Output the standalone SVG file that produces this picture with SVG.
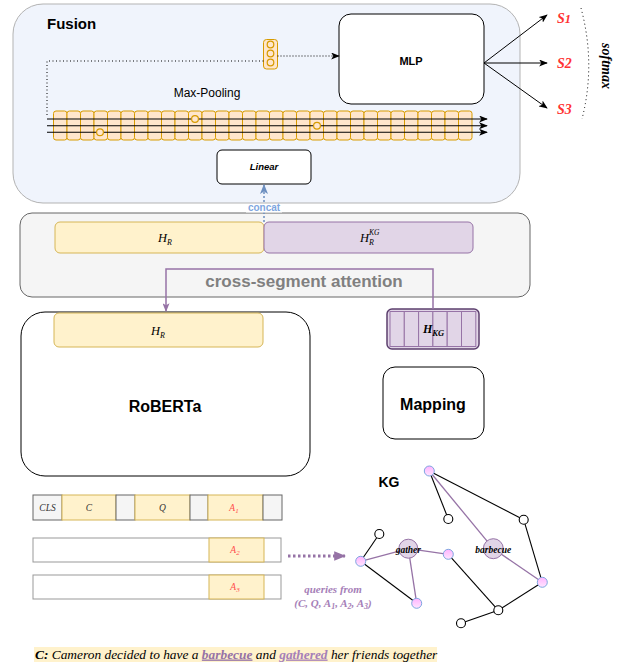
<svg xmlns="http://www.w3.org/2000/svg" width="625" height="662" viewBox="0 0 625 662">
<defs>
<style>
.sans{font-family:"Liberation Sans",Arial,sans-serif}
.serif{font-family:"Liberation Serif","Times New Roman",serif}
.cell{fill:#ffe6cc;stroke:#d79b00;stroke-width:1}
.dot{fill:#ffe6cc;stroke:#d79b00;stroke-width:1.2}
.yel{fill:#fff2cc;stroke:#d6b656;stroke-width:1}
.pur{fill:#e1d5e7;stroke:#9673a6;stroke-width:1}
.gry{fill:#f5f5f5;stroke:#666666;stroke-width:1}
.wbar{fill:#ffffff;stroke:#999999;stroke-width:1}
.kgb{stroke:#000;stroke-width:1.1;fill:none}
.kgp{stroke:#9673a6;stroke-width:1.3;fill:none}
.pn{fill:url(#pink);stroke:#7ea6e0;stroke-width:1}
.wn{fill:#fff;stroke:#000;stroke-width:1.1}
.bn{fill:#e1d5e7;stroke:#9673a6;stroke-width:1}
.lbl{font-family:"Liberation Serif","Times New Roman",serif;font-style:italic;font-size:9.5px;text-anchor:middle}
.score{font-family:"Liberation Serif","Times New Roman",serif;font-style:italic;font-weight:bold;font-size:14px;fill:#ff3333}
</style>
<linearGradient id="pink" x1="0" y1="0" x2="0" y2="1">
<stop offset="0" stop-color="#ffb3ff"/>
<stop offset="1" stop-color="#ffe6ff"/>
</linearGradient>
<marker id="ab" viewBox="0 0 10 8" refX="9" refY="4" markerWidth="9" markerHeight="7" markerUnits="userSpaceOnUse" orient="auto">
<path d="M0,0 L10,4 L0,8 L2.5,4 z" fill="#000"/>
</marker>
<marker id="abl" viewBox="0 0 10 8" refX="9" refY="4" markerWidth="10" markerHeight="8" markerUnits="userSpaceOnUse" orient="auto">
<path d="M0,0 L10,4 L0,8 L2.5,4 z" fill="#6c8ebf"/>
</marker>
<marker id="ap" viewBox="0 0 10 8" refX="9" refY="4" markerWidth="9" markerHeight="7" markerUnits="userSpaceOnUse" orient="auto">
<path d="M0,0 L10,4 L0,8 L2.5,4 z" fill="#9673a6"/>
</marker>
<marker id="apb" viewBox="0 0 10 8" refX="9" refY="4" markerWidth="12" markerHeight="11" markerUnits="userSpaceOnUse" orient="auto">
<path d="M0,0 L10,4 L0,8 z" fill="#9673a6"/>
</marker>
</defs>
<rect width="625" height="662" fill="#ffffff"/>

<g id="fusion">
<rect x="13" y="4" width="507" height="199" rx="30" fill="#f0f4fc" stroke="#b3b3b3" stroke-width="1"/>
<text x="47" y="29" class="sans" font-size="15" font-weight="bold">Fusion</text>
</g>

<g id="maxpool">
<g>
<rect class="cell" x="53.5" y="111" width="13.5" height="29" rx="2.5"/>
<rect class="cell" x="67" y="111" width="13.5" height="29" rx="2.5"/>
<rect class="cell" x="80.5" y="111" width="13.5" height="29" rx="2.5"/>
<rect class="cell" x="94" y="111" width="13.5" height="29" rx="2.5"/>
<rect class="cell" x="107.5" y="111" width="13.5" height="29" rx="2.5"/>
<rect class="cell" x="121" y="111" width="13.5" height="29" rx="2.5"/>
<rect class="cell" x="134.5" y="111" width="13.5" height="29" rx="2.5"/>
<rect class="cell" x="148" y="111" width="13.5" height="29" rx="2.5"/>
<rect class="cell" x="161.5" y="111" width="13.5" height="29" rx="2.5"/>
<rect class="cell" x="175" y="111" width="13.5" height="29" rx="2.5"/>
<rect class="cell" x="188.5" y="111" width="13.5" height="29" rx="2.5"/>
<rect class="cell" x="202" y="111" width="13.5" height="29" rx="2.5"/>
<rect class="cell" x="215.5" y="111" width="13.5" height="29" rx="2.5"/>
<rect class="cell" x="229" y="111" width="13.5" height="29" rx="2.5"/>
<rect class="cell" x="242.5" y="111" width="13.5" height="29" rx="2.5"/>
<rect class="cell" x="256" y="111" width="13.5" height="29" rx="2.5"/>
<rect class="cell" x="269.5" y="111" width="13.5" height="29" rx="2.5"/>
<rect class="cell" x="283" y="111" width="13.5" height="29" rx="2.5"/>
<rect class="cell" x="296.5" y="111" width="13.5" height="29" rx="2.5"/>
<rect class="cell" x="310" y="111" width="13.5" height="29" rx="2.5"/>
<rect class="cell" x="323.5" y="111" width="13.5" height="29" rx="2.5"/>
<rect class="cell" x="337" y="111" width="13.5" height="29" rx="2.5"/>
<rect class="cell" x="350.5" y="111" width="13.5" height="29" rx="2.5"/>
<rect class="cell" x="364" y="111" width="13.5" height="29" rx="2.5"/>
<rect class="cell" x="377.5" y="111" width="13.5" height="29" rx="2.5"/>
<rect class="cell" x="391" y="111" width="13.5" height="29" rx="2.5"/>
<rect class="cell" x="404.5" y="111" width="13.5" height="29" rx="2.5"/>
<rect class="cell" x="418" y="111" width="13.5" height="29" rx="2.5"/>
<rect class="cell" x="431.5" y="111" width="13.5" height="29" rx="2.5"/>
<rect class="cell" x="445" y="111" width="13.5" height="29" rx="2.5"/>
<rect class="cell" x="458.5" y="111" width="13.5" height="29" rx="2.5"/>
</g>
<g stroke="#000" stroke-width="1.1" fill="none">
<line x1="47" y1="119" x2="487" y2="119" marker-end="url(#ab)"/>
<line x1="47" y1="125.7" x2="487" y2="125.7" marker-end="url(#ab)"/>
<line x1="47" y1="132.3" x2="487" y2="132.3" marker-end="url(#ab)"/>
</g>
<circle class="dot" cx="100" cy="132.3" r="3.4"/>
<circle class="dot" cx="195" cy="119" r="3.4"/>
<circle class="dot" cx="317" cy="125.7" r="3.4"/>
<text x="207" y="97" class="sans" font-size="12" text-anchor="middle">Max-Pooling</text>
</g>

<g id="vector">
<rect x="263.5" y="39.5" width="14" height="29.5" rx="3" fill="#ffe6cc" stroke="#d79b00" stroke-width="1"/>
<circle class="dot" cx="270.5" cy="44.5" r="3.3"/>
<circle class="dot" cx="270.5" cy="53.5" r="3.3"/>
<circle class="dot" cx="270.5" cy="62.5" r="3.3"/>
</g>

<g id="mlp">
<rect x="339" y="14" width="145" height="90" rx="12" fill="#ffffff" stroke="#000" stroke-width="1"/>
<text x="411" y="65" class="sans" font-size="11" font-weight="bold" text-anchor="middle">MLP</text>
</g>

<g id="linear">
<rect x="217" y="150" width="94" height="34" rx="5" fill="#ffffff" stroke="#000" stroke-width="1"/>
<text x="264" y="170" class="sans" font-size="9.5" font-weight="bold" font-style="italic" text-anchor="middle">Linear</text>
</g>

<g id="scores">
<text x="557" y="23" class="score">S<tspan font-size="12.5">1</tspan></text>
<text x="557" y="68" class="score">S2</text>
<text x="557" y="114" class="score">S3</text>
<path d="M581,8 Q596,64 582,119" fill="none" stroke="#000" stroke-width="1" stroke-dasharray="1 3"/>
<text x="602" y="66" class="serif" font-size="14" font-weight="bold" font-style="italic" text-anchor="middle" transform="rotate(90 602 66)">softmax</text>
</g>

<g id="segment">
<rect x="20" y="213" width="510" height="84" rx="12" fill="#f5f5f5" stroke="#666666" stroke-width="1"/>
<rect class="yel" x="55" y="222" width="209" height="31" rx="5"/>
<rect class="pur" x="264" y="222" width="209" height="31" rx="5"/>
<text x="158" y="242" class="serif" font-size="12.5" font-style="italic">H<tspan font-size="8" dy="3">R</tspan></text>
<text x="360" y="242" class="serif" font-size="12.5" font-style="italic">H<tspan font-size="8" dy="3">R</tspan><tspan font-size="7.5" dx="-5" dy="-10">KG</tspan></text>
<text x="304" y="287" class="sans" font-size="17" font-weight="bold" fill="#808080" text-anchor="middle">cross-segment attention</text>
</g>

<g id="roberta">
<rect x="21" y="312" width="289" height="164" rx="24" fill="#ffffff" stroke="#000" stroke-width="1"/>
<rect class="yel" x="54" y="313" width="209" height="34" rx="5"/>
<text x="151" y="335" class="serif" font-size="12.5" font-style="italic">H<tspan font-size="8" dy="3">R</tspan></text>
<text x="165" y="412" class="sans" font-size="16" font-weight="bold" text-anchor="middle">RoBERTa</text>
</g>

<g id="hkg">
<rect x="387" y="309" width="92" height="40" rx="5" fill="#e1d5e7" stroke="#5c3f6e" stroke-width="1.5"/>
<g fill="#e1d5e7" stroke="#9673a6" stroke-width="1">
<rect x="390" y="311.5" width="14.3" height="35"/>
<rect x="404.3" y="311.5" width="14.3" height="35"/>
<rect x="418.6" y="311.5" width="14.3" height="35"/>
<rect x="432.9" y="311.5" width="14.3" height="35"/>
<rect x="447.2" y="311.5" width="14.3" height="35"/>
<rect x="461.5" y="311.5" width="14.3" height="35"/>
</g>
<text x="423" y="333" class="serif" font-size="12" font-weight="bold" font-style="italic">H<tspan font-size="8.5" dy="3">KG</tspan></text>
</g>

<g id="mapping">
<rect x="383" y="367" width="101" height="72" rx="12" fill="#ffffff" stroke="#000" stroke-width="1"/>
<text x="433" y="410" class="sans" font-size="16" font-weight="bold" text-anchor="middle">Mapping</text>
</g>

<g id="tokens">
<rect class="gry" x="33" y="495" width="29" height="25"/>
<rect class="yel" x="62" y="495" width="54" height="25"/>
<rect class="gry" x="116" y="495" width="19" height="25"/>
<rect class="yel" x="135" y="495" width="55" height="25"/>
<rect class="gry" x="190" y="495" width="18" height="25"/>
<rect class="yel" x="208" y="495" width="55" height="25"/>
<rect class="gry" x="263" y="495" width="19" height="25"/>
<text class="lbl" x="47.5" y="511" fill="#333">CLS</text>
<text class="lbl" x="89" y="511" fill="#333">C</text>
<text class="lbl" x="162.5" y="511" fill="#333">Q</text>
<text class="lbl" x="234" y="511" fill="#ff4d4d">A<tspan font-size="7" dy="2">1</tspan></text>
<rect class="wbar" x="33" y="538" width="248" height="24"/>
<rect class="yel" x="209" y="538" width="55" height="24"/>
<text class="lbl" x="235" y="553" fill="#ff4d4d">A<tspan font-size="7" dy="2">2</tspan></text>
<rect class="wbar" x="33" y="575" width="248" height="24"/>
<rect class="yel" x="209" y="575" width="55" height="24"/>
<text class="lbl" x="235" y="590" fill="#ff4d4d">A<tspan font-size="7" dy="2">3</tspan></text>
</g>

<g id="connectors" fill="none">
<path d="M263.5,61 H47 V116" stroke="#000" stroke-width="1" stroke-dasharray="1 2.5"/>
<line x1="277.5" y1="56" x2="339" y2="56" stroke="#000" stroke-width="1" stroke-dasharray="1 2" marker-end="url(#ab)"/>
<line x1="484" y1="63" x2="547" y2="15" stroke="#000" stroke-width="1" marker-end="url(#ab)"/>
<line x1="484" y1="63" x2="547" y2="63" stroke="#000" stroke-width="1" marker-end="url(#ab)"/>
<line x1="484" y1="63" x2="547" y2="108" stroke="#000" stroke-width="1" marker-end="url(#ab)"/>
<line x1="264" y1="222" x2="264" y2="185" stroke="#6c8ebf" stroke-width="1.5" stroke-dasharray="2 2" marker-end="url(#abl)"/>
<path d="M433,309 V269 H166 V311" stroke="#9673a6" stroke-width="1.5" marker-end="url(#ap)"/>
<line x1="288" y1="556" x2="345" y2="556" stroke="#9673a6" stroke-width="3" stroke-dasharray="2.5 2.5" marker-end="url(#apb)"/>
</g>

<g id="concat-label">
<rect x="246" y="204" width="36" height="8.5" fill="#ffffff"/>
<text x="264" y="211" class="sans" font-size="10" font-weight="bold" fill="#7ea6e0" text-anchor="middle">concat</text>
</g>

<g id="kg">
<text x="389" y="487" class="sans" font-size="14" font-weight="bold" text-anchor="middle">KG</text>
<g class="kgb">
<line x1="429.3" y1="471" x2="448.3" y2="519"/>
<line x1="429.3" y1="471" x2="523.7" y2="519.7"/>
<line x1="523.7" y1="519.7" x2="542.3" y2="582.3"/>
<line x1="542.3" y1="582.3" x2="498.3" y2="610.3"/>
<line x1="498.3" y1="610.3" x2="461" y2="623.3"/>
<line x1="448.3" y1="554.3" x2="498.3" y2="610.3"/>
<line x1="379.3" y1="534" x2="360.7" y2="561.3"/>
<line x1="360.7" y1="561.3" x2="416.7" y2="603.3"/>
</g>
<g class="kgp">
<line x1="429.3" y1="471" x2="493.3" y2="548.7"/>
<line x1="493.3" y1="548.7" x2="542.3" y2="582.3"/>
<line x1="360.7" y1="561.3" x2="408.3" y2="548.7"/>
<line x1="408.3" y1="548.7" x2="448.3" y2="554.3"/>
<line x1="408.3" y1="548.7" x2="416.7" y2="603.3"/>
</g>
<circle class="bn" cx="408.3" cy="548.7" r="9.5"/>
<circle class="bn" cx="493.3" cy="548.7" r="10"/>
<circle class="wn" cx="448.3" cy="519" r="4.5"/>
<circle class="wn" cx="523.7" cy="519.7" r="4.5"/>
<circle class="wn" cx="379.3" cy="534" r="4.5"/>
<circle class="wn" cx="498.3" cy="610.3" r="4.5"/>
<circle class="wn" cx="461" cy="623.3" r="4.5"/>
<circle class="pn" cx="429.3" cy="471" r="5"/>
<circle class="pn" cx="360.7" cy="561.3" r="5"/>
<circle class="pn" cx="448.3" cy="554.3" r="5"/>
<circle class="pn" cx="542.3" cy="582.3" r="5"/>
<circle class="pn" cx="416.7" cy="603.3" r="5"/>
<text x="408.3" y="553" class="serif" font-size="9.5" font-weight="bold" font-style="italic" text-anchor="middle">gather</text>
<text x="493.3" y="553" class="serif" font-size="9.5" font-weight="bold" font-style="italic" text-anchor="middle">barbecue</text>
<text x="333" y="593" class="serif" font-size="11" font-weight="bold" font-style="italic" fill="#a680b8" text-anchor="middle">queries from</text>
<text x="333" y="607" class="serif" font-size="11" font-weight="bold" font-style="italic" fill="#a680b8" text-anchor="middle">(C, Q, A<tspan font-size="8" dy="2">1</tspan><tspan dy="-2">, A</tspan><tspan font-size="8" dy="2">2</tspan><tspan dy="-2">, A</tspan><tspan font-size="8" dy="2">3</tspan><tspan dy="-2">)</tspan></text>
</g>

<g id="caption">
<rect x="34" y="647" width="403" height="15" fill="#fff2cc"/>
<text x="35" y="658.5" class="serif" font-size="13.4" font-style="italic"><tspan font-weight="bold">C:</tspan> Cameron decided to have a <tspan font-weight="bold" fill="#9673a6" text-decoration="underline">barbecue</tspan> and <tspan font-weight="bold" fill="#a680b8" text-decoration="underline">gathered</tspan> her friends together</text>
</g>
</svg>
